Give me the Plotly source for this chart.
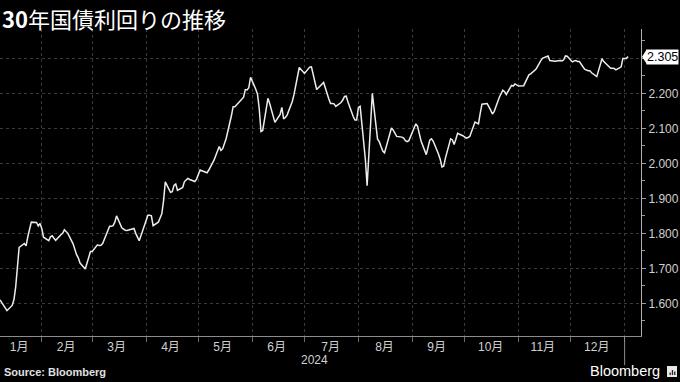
import plotly.graph_objects as go
import pandas as pd

# ---- data -------------------------------------------------------------
trade_dates = pd.bdate_range("2024-01-08", "2025-01-03")

yields = [
    1.610, 1.602, 1.594, 1.587, 1.579,
    1.594, 1.610, 1.646, 1.715, 1.760,
    1.771, 1.764, 1.791, 1.815, 1.832,
    1.831, 1.821, 1.828, 1.814, 1.789,
    1.779, 1.790, 1.793, 1.786, 1.780,
    1.796, 1.800, 1.810, 1.806, 1.800,
    1.770, 1.751, 1.739, 1.730, 1.715,
    1.698, 1.715, 1.734, 1.748, 1.748,
    1.767, 1.765, 1.766, 1.771, 1.782,
    1.820, 1.820, 1.822, 1.832, 1.850,
    1.816, 1.811, 1.809, 1.808, 1.809,
    1.814, 1.800, 1.790, 1.779, 1.793,
    1.834, 1.852, 1.852, 1.850, 1.822,
    1.832, 1.844, 1.856, 1.893, 1.947,
    1.917, 1.919, 1.937, 1.941, 1.923,
    1.931, 1.948, 1.954, 1.957, 1.954,
    1.948, 1.955, 1.968, 1.981, 1.979,
    1.973, 1.981, 1.989, 1.999, 2.009,
    2.048, 2.037, 2.042, 2.056, 2.071,
    2.136, 2.162, 2.162, 2.168, 2.172,
    2.189, 2.211, 2.210, 2.216, 2.246,
    2.212, 2.198, 2.156, 2.091, 2.094,
    2.186, 2.171, 2.153, 2.135, 2.117,
    2.140, 2.160, 2.127, 2.131, 2.138,
    2.177, 2.197, 2.226, 2.251, 2.274,
    2.257, 2.262, 2.270, 2.275, 2.276,
    2.211, 2.216, 2.221, 2.227, 2.231,
    2.184, 2.171, 2.171, 2.170, 2.163,
    2.174, 2.181, 2.191, 2.192, 2.175,
    2.134, 2.124, 2.124, 2.160, 2.163,
    2.011, 1.936, 2.027, 2.134, 2.200,
    2.069, 2.062, 2.048, 2.035, 2.030,
    2.082, 2.101, 2.095, 2.086, 2.077,
    2.075, 2.072, 2.065, 2.062, 2.065,
    2.101, 2.113, 2.106, 2.086, 2.064,
    2.025, 2.047, 2.066, 2.070, 2.063,
    2.027, 2.012, 1.990, 1.992, 2.015,
    2.070, 2.067, 2.054, 2.069, 2.086,
    2.079, 2.075, 2.072, 2.074, 2.077,
    2.118, 2.116, 2.113, 2.143, 2.169,
    2.171, 2.163, 2.152, 2.141, 2.148,
    2.189, 2.200, 2.209, 2.205, 2.197,
    2.223, 2.221, 2.227, 2.225, 2.221,
    2.222, 2.233, 2.242, 2.253, 2.256,
    2.269, 2.277, 2.288, 2.295, 2.301,
    2.307, 2.294, 2.293, 2.293, 2.292,
    2.294, 2.293, 2.296, 2.307, 2.306,
    2.290, 2.293, 2.294, 2.291, 2.291,
    2.269, 2.266, 2.265, 2.265, 2.259,
    2.248, 2.267, 2.286, 2.299, 2.291,
    2.275, 2.272, 2.272, 2.271, 2.267,
    2.276, 2.300, 2.301, 2.300, 2.305,
]

month_label_dates = ["2024-01-19", "2024-02-15", "2024-03-15", "2024-04-15",
                     "2024-05-15", "2024-06-15", "2024-07-16", "2024-08-16",
                     "2024-09-15", "2024-10-16", "2024-11-15", "2024-12-16"]
month_labels = ["1月", "2月", "3月", "4月", "5月", "6月",
                "7月", "8月", "9月", "10月", "11月", "12月"]
month_starts = ["2024-02-01", "2024-03-01", "2024-04-01", "2024-05-01",
                "2024-06-01", "2024-07-01", "2024-08-01", "2024-09-01",
                "2024-10-01", "2024-11-01", "2024-12-01", "2025-01-01"]
year_label = "2024"
year_end = "2025-01-01"

ytick_vals = [1.6, 1.7, 1.8, 1.9, 2.0, 2.1, 2.2, 2.3]
ytick_text = ["1.600", "1.700", "1.800", "1.900", "2.000", "2.100", "2.200", ""]
ytick_minor = [1.55, 1.65, 1.75, 1.85, 1.95, 2.05, 2.15, 2.25, 2.35]

title_text = "<b>30</b>年国債利回りの推移"
source_text = "<b>Source: Bloomberg</b>"
last_value = yields[-1]
last_label = f"{last_value:.3f}"

# ---- figure -----------------------------------------------------------
FONT = "Liberation Sans, Arial, Noto Sans CJK JP, sans-serif"
GRID = "#3a3a3a"

fig = go.Figure()
fig.add_trace(go.Scatter(
    x=trade_dates, y=yields, mode="lines",
    line=dict(color="#ededed", width=1.5),
    hoverinfo="skip",
))

fig.update_layout(
    width=680, height=382,
    margin=dict(l=0, r=39, t=29, b=46),
    paper_bgcolor="black", plot_bgcolor="black",
    showlegend=False,
    font=dict(family=FONT, color="#d0d0d0", size=12),
)

fig.update_xaxes(
    type="date",
    range=["2024-01-08", "2025-01-10 10:00"],
    tickmode="array", tickvals=month_label_dates, ticktext=month_labels,
    ticks="", showgrid=False, zeroline=False,
    showline=True, linecolor="#8c8c8c", linewidth=1,
    tickfont=dict(size=12, color="#d0d0d0"),
    minor=dict(tickmode="array", tickvals=month_starts,
               showgrid=True, gridcolor=GRID, griddash="dot", gridwidth=1,
               ticks="outside", ticklen=5, tickcolor="#6a6a6a"),
)

fig.update_yaxes(
    side="right",
    range=[1.5066, 2.384],
    tickmode="array", tickvals=ytick_vals, ticktext=ytick_text,
    showgrid=True, gridcolor=GRID, griddash="dot", gridwidth=1,
    zeroline=False,
    ticks="outside", ticklen=4, tickcolor="#9a9a9a",
    showline=True, linecolor="#b0b0b0", linewidth=1,
    tickfont=dict(size=12, color="#d0d0d0"),
    minor=dict(tickmode="array", tickvals=ytick_minor,
               ticks="outside", ticklen=3, tickcolor="#9a9a9a", showgrid=False),
)

# year separator tick
fig.add_shape(type="line", xref="x", yref="paper",
              x0=year_end, x1=year_end, y0=0, y1=-0.095,
              line=dict(color="#8c8c8c", width=1))

# last value tag pointer
fig.add_shape(type="path", xref="paper", yref="y",
              xsizemode="pixel", xanchor=1,
              path=f"M 1,{last_value} L 6,{last_value + 0.022} L 6,{last_value - 0.022} Z",
              fillcolor="white", line=dict(width=0))

# Bloomberg icon
fig.add_shape(type="rect", xref="paper", yref="paper",
              x0=667 / 641, x1=677 / 641, y0=-0.0977, y1=-0.1336,
              fillcolor="#e8e8e8", line=dict(width=0))
for bx, top in [(669.5, 372.5), (671.8, 370.0), (674.1, 371.5)]:
    fig.add_shape(type="rect", xref="paper", yref="paper",
                  x0=bx / 641, x1=(bx + 1.3) / 641,
                  y0=(336 - top) / 307, y1=(336 - 375) / 307,
                  fillcolor="#222222", line=dict(width=0))

fig.add_annotation(text=last_label, xref="paper", yref="y",
                   x=1, y=last_value, xanchor="left", yanchor="middle",
                   xshift=5, showarrow=False, bgcolor="white", borderpad=0,
                   font=dict(family=FONT, size=12.5, color="black"))

fig.add_annotation(text=title_text, xref="paper", yref="paper",
                   x=0, y=(336 - 1) / 307, xanchor="left", yanchor="top",
                   xshift=1, showarrow=False, borderpad=0,
                   font=dict(family="Noto Sans CJK JP, sans-serif", size=22, color="white"))

fig.add_annotation(text=year_label, xref="paper", yref="paper",
                   x=314 / 641, y=(336 - 360) / 307, xanchor="center", yanchor="middle",
                   showarrow=False, font=dict(family=FONT, size=12, color="#d0d0d0"))

fig.add_annotation(text=source_text, xref="paper", yref="paper",
                   x=0, y=(336 - 372) / 307, xanchor="left", yanchor="middle",
                   xshift=2, showarrow=False,
                   font=dict(family=FONT, size=11, color="#e0e0e0"))

fig.add_annotation(text="Bloomberg", xref="paper", yref="paper",
                   x=662 / 641, y=(336 - 371) / 307, xanchor="right", yanchor="middle",
                   showarrow=False,
                   font=dict(family=FONT, size=14.5, color="white"))

fig.write_html("out.html", config={"displayModeBar": False})
